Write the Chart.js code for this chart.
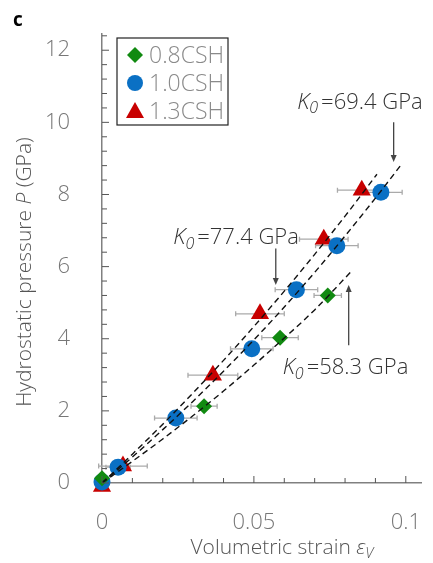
<!DOCTYPE html>
<html>
<head>
<meta charset="utf-8">
<script src="https://cdn.jsdelivr.net/npm/chart.js@4.4.1/dist/chart.umd.min.js"></script>
<style>
  html, body { margin: 0; padding: 0; background: #fff; }
</style>
</head>
<body>
<canvas id="chart" width="433" height="563"></canvas>
<script>
// --- data ---
const seriesNames = ['0.8CSH', '1.0CSH', '1.3CSH'];

const strain08 = [0, 0.0336, 0.0586, 0.0743];
const pressure08 = [0.13, 2.13, 4.03, 5.2];
const strainErr08 = [0, 0.0043, 0.006, 0.0045];

const strain10 = [0, 0.0053, 0.0243, 0.0493, 0.064, 0.0773, 0.0918];
const pressure10 = [0.03, 0.44, 1.8, 3.72, 5.36, 6.58, 8.06];
const strainErr10 = [0, 0.004, 0.007, 0.007, 0.007, 0.007, 0.007];

const strain13 = [0, 0.0069, 0.0365, 0.052, 0.073, 0.0855];
const pressure13 = [-0.1, 0.47, 2.99, 4.69, 6.76, 8.12];
const strainErr13 = [0, 0.008, 0.0082, 0.008, 0.008, 0.008];

// fitted EOS curves
const fitStrain08 = [0, 0.01, 0.02, 0.03, 0.04, 0.05, 0.06, 0.07, 0.0822];
const fitPressure08 = [0, 0.6, 1.22, 1.87, 2.55, 3.27, 4.02, 4.8, 5.88];
const fitStrain10 = [0, 0.01, 0.02, 0.03, 0.04, 0.05, 0.06, 0.07, 0.08, 0.09, 0.0987];
const fitPressure10 = [0, 0.72, 1.48, 2.27, 3.1, 3.97, 4.88, 5.84, 6.85, 7.9, 8.85];
const fitStrain13 = [0, 0.01, 0.02, 0.03, 0.04, 0.05, 0.06, 0.07, 0.08, 0.0905];
const fitPressure13 = [0, 0.8, 1.63, 2.5, 3.4, 4.34, 5.32, 6.34, 7.4, 8.56];

const modulusLabels = ['58.3', '69.4', '77.4'];

const colors = ['#118a11', '#0a70c4', '#c80000'];
const FONT = '"Open Sans", "Noto Sans", sans-serif';

const zip = (xs, ys) => xs.map((x, i) => ({ x: x, y: ys[i] }));

const markerSet = (label, xs, ys, errs, color, style, radius) => ({
  type: 'scatter',
  label: label,
  data: zip(xs, ys),
  errs: errs,
  backgroundColor: color,
  borderColor: color,
  borderWidth: 0,
  pointStyle: style,
  pointRadius: radius,
  pointHoverRadius: radius,
  clip: false,
  order: 2,
});

const fitSet = (xs, ys) => ({
  type: 'line',
  label: 'fit',
  data: zip(xs, ys),
  borderColor: '#111',
  borderWidth: 1.4,
  borderDash: [6, 4],
  pointRadius: 0,
  cubicInterpolationMode: 'monotone',
  fill: false,
  order: 0,
});

// error bars, inward ticks, legend, annotations and titles
function richText(ctx, parts, x, y, align, size, color) {
  ctx.save();
  ctx.fillStyle = color;
  ctx.textBaseline = 'middle';
  ctx.textAlign = 'left';
  let total = 0;
  const fontOf = p => (p.italic ? 'italic ' : '') + '300 ' + (p.sub ? Math.round(size * 0.72) : size) + 'px ' + FONT;
  parts.forEach(p => { ctx.font = fontOf(p); total += ctx.measureText(p.t).width + (p.gap || 0); });
  let cx = align === 'center' ? x - total / 2 : align === 'right' ? x - total : x;
  parts.forEach(p => {
    ctx.font = fontOf(p);
    ctx.fillText(p.t, cx, y + (p.sub ? size * 0.28 : 0));
    cx += ctx.measureText(p.t).width + (p.gap || 0);
  });
  ctx.restore();
}

function arrow(ctx, x, y1, y2) {
  const dir = Math.sign(y2 - y1);
  ctx.save();
  ctx.strokeStyle = '#444';
  ctx.fillStyle = '#444';
  ctx.lineWidth = 1.3;
  ctx.beginPath();
  ctx.moveTo(x, y1);
  ctx.lineTo(x, y2 - dir * 5);
  ctx.stroke();
  ctx.beginPath();
  ctx.moveTo(x, y2);
  ctx.lineTo(x - 3, y2 - dir * 7);
  ctx.lineTo(x + 3, y2 - dir * 7);
  ctx.closePath();
  ctx.fill();
  ctx.restore();
}

const extras = {
  id: 'extras',
  beforeDatasetsDraw(chart) {
    const ctx = chart.ctx;
    const xs = chart.scales.x, ys = chart.scales.y;
    ctx.save();
    ctx.strokeStyle = '#aaaaaa';
    ctx.lineWidth = 1.3;
    chart.data.datasets.forEach(ds => {
      if (!ds.errs) return;
      ds.data.forEach((p, i) => {
        const e = ds.errs[i];
        if (!e) return;
        const py = ys.getPixelForValue(p.y);
        const x1 = xs.getPixelForValue(p.x - e), x2 = xs.getPixelForValue(p.x + e);
        ctx.beginPath();
        ctx.moveTo(x1, py); ctx.lineTo(x2, py);
        ctx.moveTo(x1, py - 2.5); ctx.lineTo(x1, py + 2.5);
        ctx.moveTo(x2, py - 2.5); ctx.lineTo(x2, py + 2.5);
        ctx.stroke();
      });
    });
    ctx.restore();
  },
  afterDraw(chart) {
    const ctx = chart.ctx;
    const xs = chart.scales.x, ys = chart.scales.y;
    const area = chart.chartArea;

    // inward ticks
    ctx.save();
    ctx.strokeStyle = '#555';
    ctx.lineWidth = 1;
    ctx.beginPath();
    xs.ticks.forEach(t => {
      const px = xs.getPixelForValue(t.value);
      const len = t.label ? 7 : 5;
      ctx.moveTo(px, area.bottom); ctx.lineTo(px, area.bottom - len);
    });
    ys.ticks.forEach(t => {
      const py = ys.getPixelForValue(t.value);
      const len = t.label ? 7 : 5;
      ctx.moveTo(area.left, py); ctx.lineTo(area.left + len, py);
    });
    ctx.stroke();
    ctx.restore();

    // legend
    const lx = area.left + 15, ly = 38;
    ctx.save();
    ctx.strokeStyle = '#222';
    ctx.lineWidth = 1.2;
    ctx.strokeRect(lx, ly, 111, 87);
    ctx.restore();
    chart.data.datasets.filter(d => d.errs).forEach((ds, i) => {
      const cy = ly + 17 + i * 28;
      const mx = lx + 18;
      ctx.save();
      ctx.fillStyle = ds.backgroundColor;
      ctx.beginPath();
      if (ds.pointStyle === 'circle') ctx.arc(mx, cy, 8, 0, Math.PI * 2);
      else if (ds.pointStyle === 'triangle') { ctx.moveTo(mx, cy - 9); ctx.lineTo(mx + 9, cy + 7); ctx.lineTo(mx - 9, cy + 7); ctx.closePath(); }
      else { ctx.moveTo(mx, cy - 8); ctx.lineTo(mx + 8, cy); ctx.lineTo(mx, cy + 8); ctx.lineTo(mx - 8, cy); ctx.closePath(); }
      ctx.fill();
      ctx.restore();
      richText(ctx, [{ t: ds.label }], lx + 32, cy + 1, 'left', 23, '#8a8a8a');
    });

    // modulus annotations (positions in data units)
    const P = (x, y) => [xs.getPixelForValue(x), ys.getPixelForValue(y)];
    const k0 = v => [{ t: 'K', italic: true }, { t: '0', italic: true, sub: true, gap: 3 }, { t: '=' + v + ' GPa' }];
    let a, b;
    a = P(0.0849, 10.55); richText(ctx, k0(modulusLabels[1]), a[0], a[1], 'center', 22, '#333');
    a = P(0.096, 10.0); b = P(0.096, 8.9); arrow(ctx, a[0], a[1], b[1]);
    a = P(0.0648, 6.79); richText(ctx, k0(modulusLabels[2]), a[0], a[1], 'right', 22, '#333');
    a = P(0.0572, 6.5); b = P(0.0572, 5.49); arrow(ctx, a[0], a[1], b[1]);
    a = P(0.0595, 3.19); richText(ctx, k0(modulusLabels[0]), a[0], a[1], 'left', 22, '#333');
    a = P(0.0812, 3.82); b = P(0.0812, 5.49); arrow(ctx, a[0], a[1], b[1]);

    // axis titles
    richText(ctx, [{ t: 'Volumetric strain ' }, { t: 'ε', italic: true }, { t: 'V', italic: true, sub: true }],
      area.left + 180, 548, 'center', 21, '#555');
    ctx.save();
    ctx.translate(25, 272);
    ctx.rotate(-Math.PI / 2);
    richText(ctx, [{ t: 'Hydrostatic pressure ' }, { t: 'P', italic: true }, { t: ' (GPa)' }], 0, 0, 'center', 21, '#555');
    ctx.restore();

    // panel letter
    ctx.save();
    ctx.fillStyle = '#000';
    ctx.font = 'bold 19px ' + FONT;
    ctx.textBaseline = 'middle';
    ctx.fillText('c', 13, 21);
    ctx.restore();
  },
};

const evenLabel = (v, step) => Math.abs(v / step - Math.round(v / step)) < 1e-6;

new Chart(document.getElementById('chart'), {
  data: {
    datasets: [
      markerSet(seriesNames[0], strain08, pressure08, strainErr08, colors[0], 'rectRot', 8),
      markerSet(seriesNames[1], strain10, pressure10, strainErr10, colors[1], 'circle', 8.5),
      markerSet(seriesNames[2], strain13, pressure13, strainErr13, colors[2], 'triangle', 10.5),
      fitSet(fitStrain08, fitPressure08),
      fitSet(fitStrain10, fitPressure10),
      fitSet(fitStrain13, fitPressure13),
    ],
  },
  options: {
    responsive: false,
    animation: false,
    layout: { padding: { top: 34, right: 12, left: 0, bottom: 0 } },
    plugins: { legend: { display: false }, tooltip: { enabled: false } },
    scales: {
      x: {
        type: 'linear',
        min: 0,
        max: 0.105,
        afterFit: s => { s.height = 80; s.paddingLeft = 0; s.paddingRight = 0; },
        grid: { display: false },
        border: { display: true, color: '#808080', width: 1.5 },
        ticks: {
          stepSize: 0.01,
          includeBounds: false,
          maxTicksLimit: 1000,
          autoSkip: false,
          maxRotation: 0,
          padding: 19,
          color: '#777',
          font: { family: FONT, size: 22, weight: 300 },
          callback: v => (evenLabel(v, 0.05) ? (v === 0 ? '0' : String(Math.round(v * 100) / 100)) : ''),
        },
      },
      y: {
        type: 'linear',
        min: 0,
        max: 12.45,
        afterFit: s => { s.width = 102; s.paddingTop = 0; s.paddingBottom = 0; },
        grid: { display: false },
        border: { display: true, color: '#808080', width: 1.5 },
        ticks: {
          stepSize: 0.4,
          includeBounds: false,
          maxTicksLimit: 1000,
          autoSkip: false,
          padding: 24,
          color: '#777',
          font: { family: FONT, size: 22, weight: 300 },
          callback: v => (evenLabel(v, 2) ? String(Math.round(v)) : ''),
        },
      },
    },
  },
  plugins: [extras],
});
</script>
</body>
</html>
